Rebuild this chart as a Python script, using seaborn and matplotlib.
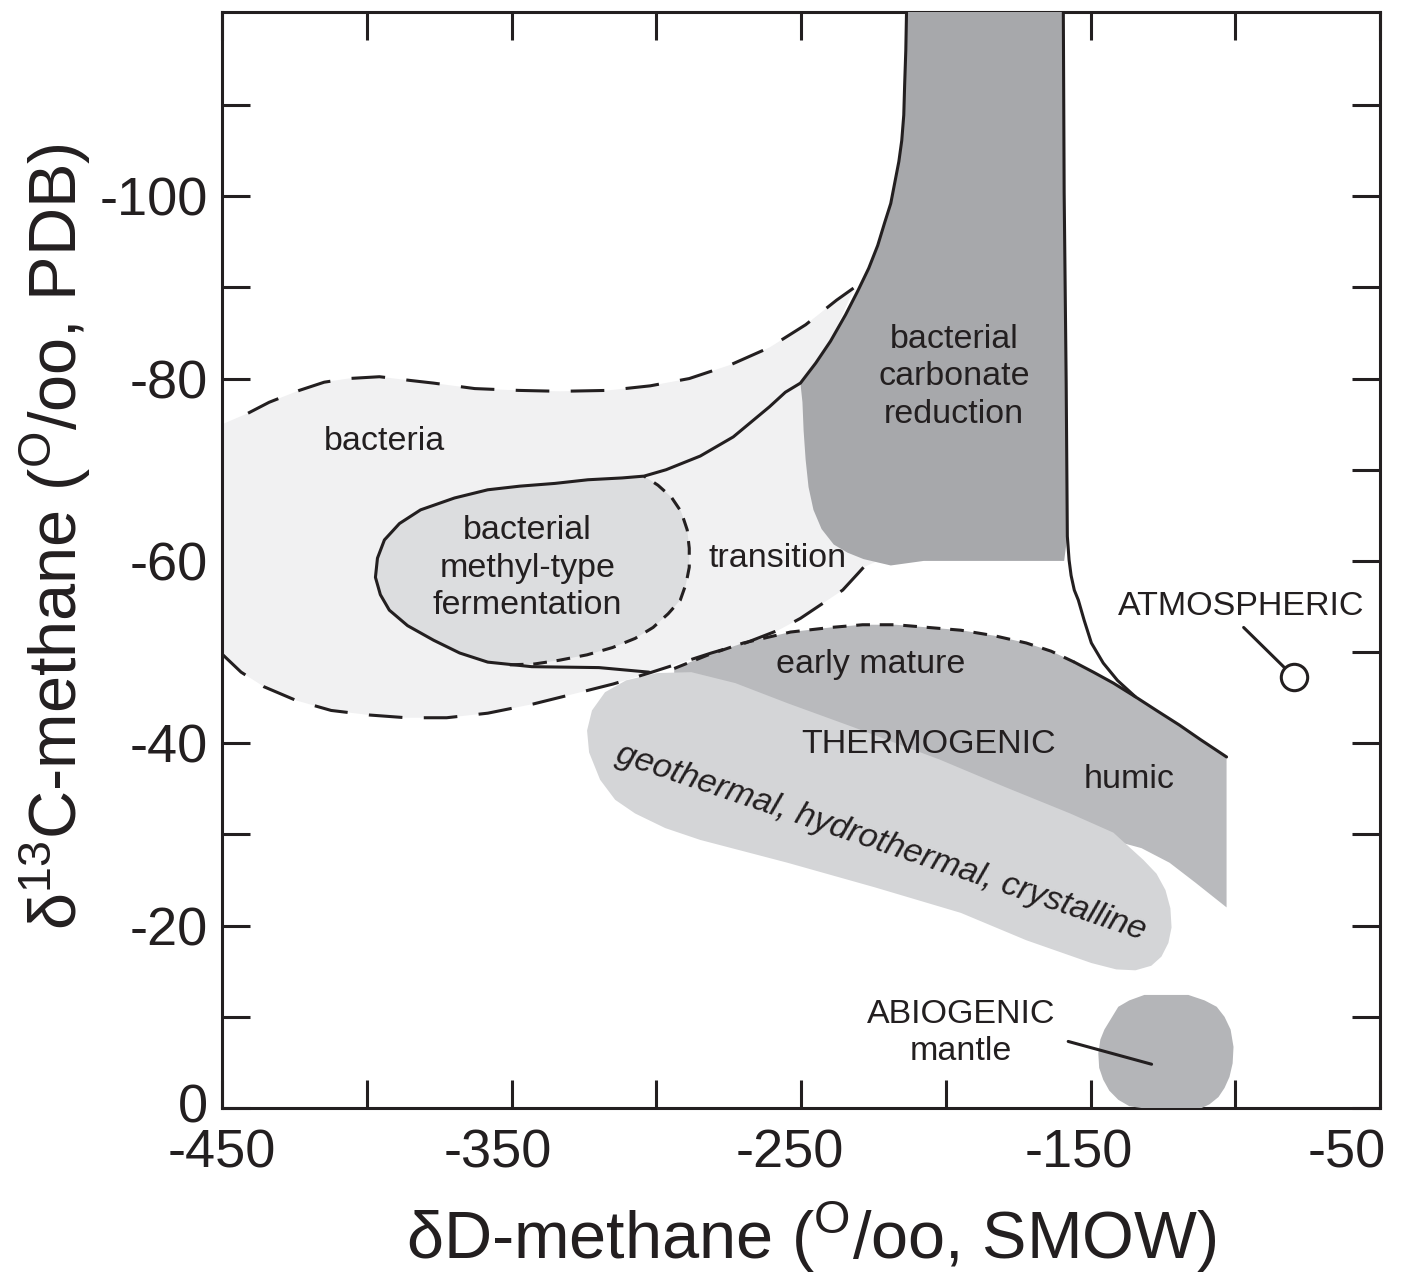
import matplotlib
matplotlib.use("Agg")
import matplotlib.pyplot as plt
import matplotlib.transforms as mtransforms
import seaborn as sns

# Methane genetic fields: dD-methane (x, permil SMOW) vs d13C-methane (y, permil PDB)

# bacteria field (light), dashed top edge, left to right
bact_top_dD = [-452.8, -441.0, -433.7, -423.3, -414.7, -406.4, -395.6, -385.2, -376.9, -362.7, -347.5,
               -333.3, -316.7, -302.1, -288.6, -274.4, -260.9, -248.4, -237.7, -231.5]
bact_top_d13C = [-74.6, -76.2, -77.4, -78.7, -79.6, -80.0, -80.2, -79.8, -79.5, -78.9, -78.7,
                 -78.6, -78.7, -79.2, -80.0, -81.5, -83.4, -85.9, -88.6, -90.0]
# hidden right side of the bacteria field (under carbonate reduction)
bact_inner_dD = [-239.8, -250.2, -236.3, -225.9, -224.2]
bact_inner_d13C = [-84.1, -79.5, -72.1, -62.3, -59.9]
# dashed lower edge, right to left
bact_bot_dD = [-228.4, -230.1, -235.6, -242.2, -250.2, -257.8, -269.2, -281.0, -291.7, -302.5, -314.9, -327.4,
               -342.6, -358.2, -372.4, -386.3, -399.1, -412.3, -424.4, -435.5, -443.4, -449.7, -452.8]
bact_bot_d13C = [-59.3, -58.7, -56.8, -55.4, -53.7, -52.4, -51.0, -49.9, -48.8, -47.7, -46.5, -45.5,
                 -44.3, -43.3, -42.8, -42.8, -43.1, -43.6, -44.7, -46.2, -47.8, -49.7, -50.8]

# solid boundary: carbonate reduction (left) running into methyl-type fermentation
sep_dD = [-213.5, -213.8, -214.2, -214.5, -215.2, -216.2, -217.6, -219.0, -221.1, -223.5, -226.6, -230.4,
          -234.6, -239.8, -244.9, -250.2, -255.4, -260.9, -273.4, -284.8, -296.6, -304.2, -311.8, -323.6,
          -335.0, -347.1, -358.2, -369.7, -381.4, -388.7, -393.9, -396.3, -397.0, -395.3, -392.2, -385.9,
          -376.9, -367.9, -358.2, -343.0, -319.8, -302.5]
sep_d13C = [-121.0, -116.0, -112.2, -108.9, -106.1, -103.8, -101.5, -99.2, -97.1, -94.6, -92.1, -89.6,
            -87.0, -84.1, -81.7, -79.5, -78.5, -76.9, -73.6, -71.5, -70.0, -69.3, -69.1, -68.9,
            -68.5, -68.2, -67.8, -66.9, -65.6, -64.1, -62.3, -60.3, -58.2, -56.3, -54.6, -52.9,
            -51.3, -49.9, -48.9, -48.4, -48.3, -47.8]

# methyl-type fermentation field (solid side then dashed side)
meth_dD = [-304.2, -311.8, -323.6, -335.0, -347.1, -358.2, -369.7, -381.4, -388.7, -393.9, -396.3, -397.0,
           -395.3, -392.2, -385.9, -376.9, -367.9, -358.2, -350.6,
           -342.0, -333.6, -323.9, -315.1, -307.3, -301.1, -295.9, -291.7, -289.7, -288.6, -288.6,
           -289.3, -291.4, -294.8, -299.4]
meth_d13C = [-69.3, -69.1, -68.9, -68.5, -68.2, -67.8, -66.9, -65.6, -64.1, -62.3, -60.3, -58.2,
             -56.3, -54.6, -52.9, -51.3, -49.9, -48.9, -48.6,
             -48.7, -49.1, -49.7, -50.5, -51.5, -52.7, -54.2, -55.7, -57.5, -59.3, -61.4,
             -63.4, -65.4, -67.0, -68.3]
meth_dash_dD = [-350.6, -342.0, -333.6, -323.9, -315.1, -307.3, -301.1, -295.9, -291.7, -289.7, -288.6,
                -288.6, -289.3, -291.4, -294.8, -299.4, -304.2]
meth_dash_d13C = [-48.6, -48.7, -49.1, -49.7, -50.5, -51.5, -52.7, -54.2, -55.7, -57.5, -59.3,
                  -61.4, -63.4, -65.4, -67.0, -68.3, -69.3]

# bacterial carbonate reduction field
carb_dD = [-213.5, -213.8, -214.2, -214.5, -215.2, -216.2, -217.6, -219.0, -221.1, -223.5, -226.6, -230.4,
           -234.6, -239.8, -244.9, -250.2, -249.5, -249.1, -248.4, -247.4, -245.7, -242.9, -238.7, -233.9,
           -228.4, -219.0, -207.6, -159.1, -158.0, -158.4, -159.1, -159.4]
carb_d13C = [-121.0, -116.0, -112.2, -108.9, -106.1, -103.8, -101.5, -99.2, -97.1, -94.6, -92.1, -89.6,
             -87.0, -84.1, -81.7, -79.5, -77.4, -74.3, -71.1, -68.1, -65.6, -63.5, -61.8, -60.9,
             -60.2, -59.5, -60.0, -60.0, -62.7, -79.5, -100.4, -121.0]

# right-hand solid boundary
right_dD = [-159.4, -159.1, -158.4, -158.0, -157.4, -156.7, -155.6, -154.2, -152.2, -149.7, -145.6, -140.7, -134.5]
right_d13C = [-121.0, -100.4, -79.5, -62.7, -60.1, -58.4, -56.8, -55.7, -53.5, -51.0, -48.8, -46.9, -45.1]

# thermogenic field
thermo_dash_dD = [-293.8, -282.0, -269.9, -253.6, -239.8, -228.7, -217.3, -205.9, -194.8, -183.3, -172.2,
                  -163.6, -155.6]
thermo_dash_d13C = [-48.2, -49.7, -51.0, -52.2, -52.7, -53.0, -53.0, -52.7, -52.4, -51.8, -51.0,
                    -50.1, -48.9]
thermo_solid_dD = [-155.6, -149.0, -142.1, -134.5, -127.2, -119.3, -112.0, -103.0]
thermo_solid_d13C = [-48.9, -47.8, -46.6, -45.1, -43.6, -42.0, -40.4, -38.5]
thermo_low_dD = [-103.0, -113.7, -122.7, -132.4, -142.8, -180.9, -232.9, -284.8, -293.8]
thermo_low_d13C = [-22.0, -24.7, -26.9, -28.5, -29.4, -32.7, -39.3, -45.8, -46.9]

# geothermal, hydrothermal, crystalline field
geo_dD = [-310.4, -317.7, -322.2, -323.9, -323.2, -319.4, -314.2, -307.3, -296.9, -284.8, -254.7, -224.5,
          -194.8, -172.2, -149.7, -141.1, -134.5, -129.0, -125.5, -123.1, -122.0, -122.4, -124.1, -127.2,
          -131.7, -142.1, -157.0, -179.5, -202.0, -232.2, -254.7, -272.7, -287.9, -299.7]
geo_d13C = [-46.9, -45.6, -43.6, -41.4, -39.0, -36.0, -33.8, -32.3, -30.7, -29.4, -26.9, -24.2,
            -21.4, -18.4, -15.9, -15.2, -15.1, -15.6, -16.6, -18.1, -19.8, -21.9, -23.9, -25.7,
            -27.2, -30.2, -32.3, -35.2, -38.2, -41.8, -44.4, -46.6, -47.8, -47.7]

# abiogenic (mantle) field
abio_dD = [-131.4, -116.2, -110.6, -106.4, -103.7, -101.6, -100.6, -100.9, -102.0, -103.7, -105.8, -108.9,
           -111.6, -132.4, -136.6, -140.4, -143.5, -145.6, -147.0, -147.3, -146.6, -145.2, -140.4, -136.6]
abio_d13C = [-12.4, -12.4, -11.8, -11.1, -10.0, -8.6, -6.7, -4.9, -3.4, -2.2, -1.2, -0.4,
             0.0, 0.0, -0.2, -0.9, -1.9, -3.1, -4.4, -6.0, -7.5, -8.6, -11.1, -11.8]

# atmospheric methane and leader lines
atmo_dD, atmo_d13C = -79.8, -47.3
atmo_leader_dD = [-97.1, -79.8]
atmo_leader_d13C = [-52.7, -47.3]
abio_leader_dD = [-157.7, -128.9]
abio_leader_d13C = [-7.3, -4.8]

# axis ticks
x_major = [-450, -350, -250, -150, -50]
x_minor = [-400, -300, -200, -100]
y_major = [0, -20, -40, -60, -80, -100]
y_minor = [-10, -30, -50, -70, -90, -110]

# field labels
labels = ["bacteria", "bacterial\ncarbonate\nreduction", "bacterial\nmethyl-type\nfermentation",
          "transition", "early mature", "THERMOGENIC", "humic", "ATMOSPHERIC", "ABIOGENIC\nmantle"]
label_dD = [-393.9, -197.2, -344.4, -258.1, -225.9, -205.9, -136.6, -97.8, -194.8]
label_d13C = [-73.1, -80.2, -59.2, -60.3, -48.6, -39.9, -36.0, -55.0, -8.2]

INK = "#231f20"
LW = 2.2
LONG_DASH = (0, (11, 7))
SHORT_DASH = (0, (4.5, 3.2))

sns.set_theme(style="ticks")
plt.rcParams["font.family"] = ["Liberation Sans", "DejaVu Sans"]
plt.rcParams["mathtext.fontset"] = "custom"
plt.rcParams["mathtext.rm"] = "Liberation Sans"
plt.rcParams["mathtext.default"] = "regular"
plt.rcParams["axes.unicode_minus"] = False

fig = plt.figure(figsize=(14.03, 12.78), dpi=100)
ax = fig.add_axes([222 / 1403, 1 - 1108 / 1278, 1158 / 1403, 1096 / 1278])


def outline(xs, ys, style="-"):
    sns.lineplot(x=xs, y=ys, sort=False, estimator=None, color=INK, lw=LW,
                 linestyle=style, ax=ax, zorder=5, solid_joinstyle="round")


# filled fields
ax.fill(bact_top_dD + bact_inner_dD + bact_bot_dD, bact_top_d13C + bact_inner_d13C + bact_bot_d13C,
        color="#f1f1f2", lw=0, zorder=1)
ax.fill(meth_dD, meth_d13C, color="#dcdddf", lw=0, zorder=2)
ax.fill(carb_dD, carb_d13C, color="#a7a8ab", lw=0, zorder=3)
ax.fill(thermo_dash_dD + thermo_solid_dD + thermo_low_dD, thermo_dash_d13C + thermo_solid_d13C + thermo_low_d13C,
        color="#b9babd", lw=0, zorder=2)
ax.fill(geo_dD, geo_d13C, color="#d4d5d7", lw=0, zorder=3)
ax.fill(abio_dD, abio_d13C, color="#b4b5b8", lw=0, zorder=3)

# boundaries
outline(bact_top_dD[1:], bact_top_d13C[1:], LONG_DASH)
outline(bact_bot_dD[:-1], bact_bot_d13C[:-1], LONG_DASH)
outline(sep_dD, sep_d13C)
outline(meth_dash_dD, meth_dash_d13C, SHORT_DASH)
outline(right_dD, right_d13C)
outline(thermo_dash_dD, thermo_dash_d13C, SHORT_DASH)
outline(thermo_solid_dD, thermo_solid_d13C)
outline(atmo_leader_dD, atmo_leader_d13C)
outline(abio_leader_dD, abio_leader_d13C)
sns.scatterplot(x=[atmo_dD], y=[atmo_d13C], s=19 ** 2, facecolor="white", edgecolor=INK,
                linewidth=LW, ax=ax, zorder=6)

for txt, x, y in zip(labels, label_dD, label_d13C):
    ax.text(x, y, txt, ha="center", va="center", fontsize=24.5, color=INK,
            linespacing=1.27, zorder=7)
ax.text(-222.5, -29.1, "geothermal, hydrothermal, crystalline", ha="center", va="center",
        rotation=-18.7, rotation_mode="anchor", fontsize=24.5, style="italic", color=INK, zorder=7)

# axes
ax.set_xlim(-450, -50)
ax.set_ylim(0, -120.2)
ax.set_xticks(x_major)
ax.set_xticklabels([str(v) for v in x_major])
ax.set_xticks(x_minor, minor=True)
ax.set_yticks(y_major)
ax.set_yticklabels([str(v) for v in y_major])
ax.set_yticks(y_minor, minor=True)
ax.tick_params(which="both", direction="in", length=20, width=LW, color=INK,
               top=True, right=True, labelsize=39, labelcolor=INK)
ax.tick_params(axis="x", pad=15)
ax.tick_params(axis="y", pad=10)
# x labels sit with the hyphen hanging left of the tick, as in the original
for lab, dx in zip(ax.get_xticklabels(), [0, -14, -11, -12, -33]):
    lab.set_transform(lab.get_transform() + mtransforms.ScaledTranslation(dx / 100, 0, fig.dpi_scale_trans))
# the "0" sits a little above the corner so it clears "-450"
zero = ax.get_yticklabels()[0]
zero.set_transform(zero.get_transform() + mtransforms.ScaledTranslation(0, 0.05, fig.dpi_scale_trans))
for sp in ax.spines.values():
    sp.set_linewidth(LW)
    sp.set_color(INK)
    sp.set_visible(True)
ax.grid(False)

ax.set_xlabel("δD-methane ($^{O}$/oo, SMOW)", fontsize=48, color=INK)
ax.set_ylabel("δ$^{13}$C-methane ($^{O}$/oo, PDB)", fontsize=48, color=INK)
ax.xaxis.set_label_coords(0.509, -0.084)
ax.yaxis.set_label_coords(-0.111, 0.521)

fig.savefig("out.png", dpi=100)
